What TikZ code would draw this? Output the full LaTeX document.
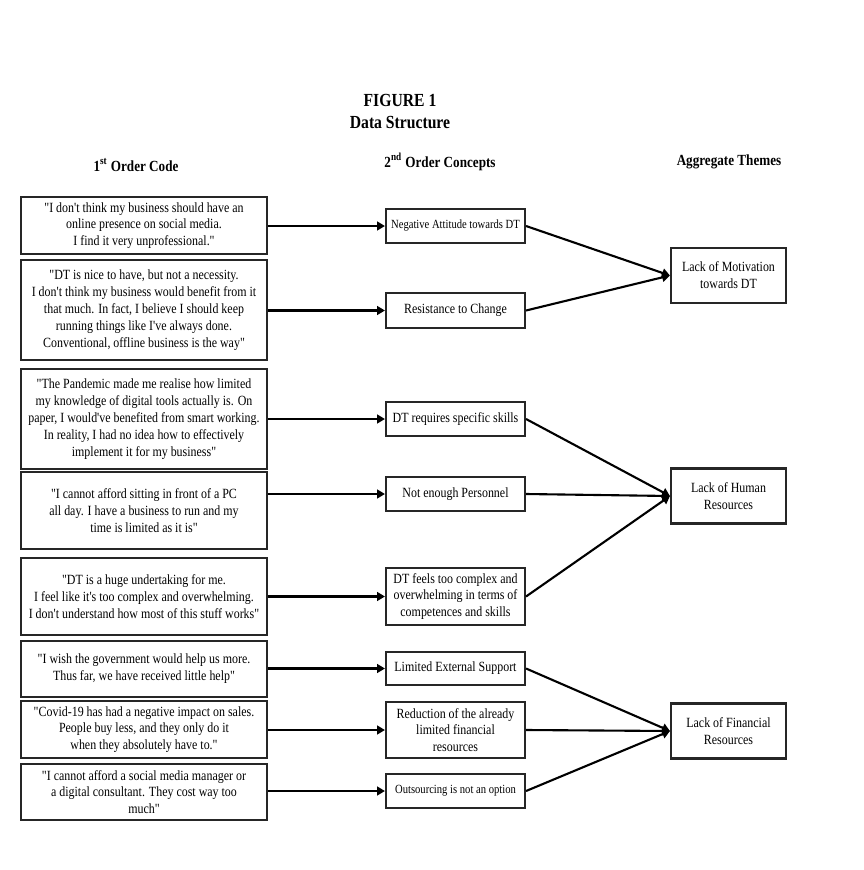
\documentclass[tikz,border=0pt]{standalone}
\usepackage{fontspec}
\setmainfont{Liberation Serif}[FakeStretch=0.85, Ligatures=TeXOff]
\usetikzlibrary{arrows.meta}

\begin{document}
\begin{tikzpicture}[x=0.02cm, y=-0.02cm,
    every path/.style={line width=1.2pt},
    quote/.style={draw=black!85, rectangle, minimum width=4.92cm, inner sep=1pt, align=center, font=\fontsize{8}{9.6}\selectfont},
    concept/.style={draw=black!85, rectangle, minimum width=2.78cm, inner sep=1pt, align=center, font=\fontsize{8}{9.6}\selectfont},
    theme/.style={draw=black!85, rectangle, minimum width=2.3cm, minimum height=1.1cm, inner sep=1pt, align=center, font=\fontsize{8}{9.6}\selectfont},
    head/.style={font=\bfseries\fontsize{8.8}{10}\selectfont},
    title/.style={font=\bfseries\fontsize{10.5}{12}\selectfont},
    link/.style={-{Triangle[length=4.5pt, width=5pt]}}]

    \useasboundingbox (0,0) rectangle (864,870);

    % titles
    \node[title] (fig) at (400,100) {FIGURE 1};
    \node[title] (ds) at (400,122) {Data Structure};
    \node[head] (h1) at (136,165) {1\textsuperscript{st} Order Code};
    \node[head] (h2) at (440,162) {2\textsuperscript{nd} Order Concepts};
    \node[head] (h3) at (729,162) {Aggregate Themes};

    % 1st order codes
    \node[quote, minimum height=1.14cm] (1) at (144,225.5) {"I don't think my business should have an\\ online presence on social media.\\ I find it very unprofessional."};
    \node[quote, minimum height=2cm] (2) at (144,310) {"DT is nice to have, but not a necessity.\\ I don't think my business would benefit from it\\ that much. In fact, I believe I should keep\\ running things like I've always done.\\ Conventional, offline business is the way"};
    \node[quote, minimum height=2cm] (3) at (144,419) {"The Pandemic made me realise how limited\\ my knowledge of digital tools actually is. On\\ paper, I would've benefited from smart working.\\ In reality, I had no idea how to effectively\\ implement it for my business"};
    \node[quote, minimum height=1.54cm] (4) at (144,510.5) {"I cannot afford sitting in front of a PC\\ all day. I have a business to run and my\\ time is limited as it is"};
    \node[quote, minimum height=1.54cm] (5) at (144,596.5) {"DT is a huge undertaking for me.\\ I feel like it's too complex and overwhelming.\\ I don't understand how most of this stuff works"};
    \node[quote, minimum height=1.12cm] (6) at (144,669) {"I wish the government would help us more.\\ Thus far, we have received little help"};
    \node[quote, minimum height=1.14cm] (7) at (144,729.5) {"Covid-19 has had a negative impact on sales.\\ People buy less, and they only do it\\ when they absolutely have to."};
    \node[quote, minimum height=1.12cm] (8) at (144,792) {"I cannot afford a social media manager or\\ a digital consultant. They cost way too\\ much"};

    % 2nd order concepts
    \node[concept, minimum height=0.68cm, font=\fontsize{7.1}{8.5}\selectfont] (9) at (455.5,226) {Negative Attitude towards DT};
    \node[concept, minimum height=0.7cm] (10) at (455.5,310.5) {Resistance to Change};
    \node[concept, minimum height=0.68cm] (11) at (455.5,419) {DT requires specific skills};
    \node[concept, minimum height=0.68cm] (12) at (455.5,494) {Not enough Personnel};
    \node[concept, minimum height=1.14cm] (13) at (455.5,596.5) {DT feels too complex and\\ overwhelming in terms of\\ competences and skills};
    \node[concept, minimum height=0.66cm] (14) at (455.5,668.5) {Limited External Support};
    \node[concept, minimum height=1.12cm] (15) at (455.5,730) {Reduction of the already\\ limited financial\\ resources};
    \node[concept, minimum height=0.68cm, font=\fontsize{7.1}{8.5}\selectfont] (16) at (455.5,791) {Outsourcing is not an option};

    % aggregate themes
    \node[theme] (17) at (728.5,275.5) {Lack of Motivation\\ towards DT};
    \node[theme] (18) at (728.5,496) {Lack of Human\\ Resources};
    \node[theme] (19) at (728.5,731) {Lack of Financial\\ Resources};

    \draw[link] (1.east |- 9.west) -- (9.west);
    \draw[link] (2.east |- 10.west) -- (10.west);
    \draw[link] (3.east |- 11.west) -- (11.west);
    \draw[link] (4.east |- 12.west) -- (12.west);
    \draw[link] (5.east |- 13.west) -- (13.west);
    \draw[link] (6.east |- 14.west) -- (14.west);
    \draw[link] (7.east |- 15.west) -- (15.west);
    \draw[link] (8.east |- 16.west) -- (16.west);

    \draw[link] (9.east) -- (17.west);
    \draw[link] (10.east) -- (17.west);
    \draw[link] (11.east) -- (18.west);
    \draw[link] (12.east) -- (18.west);
    \draw[link] (13.east) -- (18.west);
    \draw[link] (14.east) -- (19.west);
    \draw[link] (15.east) -- (19.west);
    \draw[link] (16.east) -- (19.west);

\end{tikzpicture}
\end{document}
